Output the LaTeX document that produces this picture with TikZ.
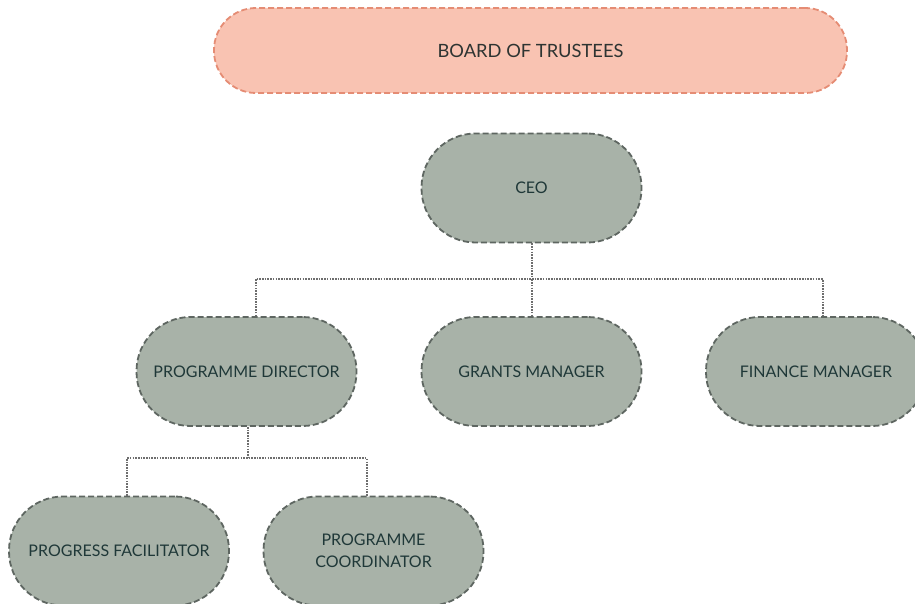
\documentclass[tikz,border=0pt]{standalone}
\usepackage{fontspec}
\setmainfont{Lato}
\usepackage{xcolor}
\definecolor{boardfill}{HTML}{F9C3B2}
\definecolor{boardline}{HTML}{E58C74}
\definecolor{boardtext}{HTML}{2E3432}
\definecolor{rolefill}{HTML}{A8B2A8}
\definecolor{roleline}{HTML}{5E6661}
\definecolor{roletext}{HTML}{1F3838}
\definecolor{linkgray}{HTML}{6E6E6E}

\begin{document}
\begin{tikzpicture}[x=1pt,y=-1pt,
    board/.style={draw=boardline,fill=boardfill,dash pattern=on 6pt off 3pt,line width=1.8pt,
        rounded corners=42pt,minimum width=633pt,minimum height=85pt,text=boardtext,
        font=\fontsize{18.3}{22}\selectfont},
    role/.style={draw=roleline,fill=rolefill,dash pattern=on 6pt off 3pt,line width=1.8pt,
        rounded corners=54pt,minimum width=220pt,minimum height=109pt,align=center,
        text=roletext,font=\fontsize{16}{22}\selectfont},
    link/.style={draw=linkgray,dash pattern=on 1.6pt off 1.1pt,line width=2pt}]
    \useasboundingbox (0,0) rectangle (915,604);

    \node[board] (BoT) at (530.5,50.5) {BOARD OF TRUSTEES};
    \node[role] (CEO) at (531.5,188) {CEO};
    \node[role] (PD) at (246.5,371.5) {PROGRAMME DIRECTOR};
    \node[role] (GM) at (531.5,371.5) {GRANTS MANAGER};
    \node[role] (FM) at (816,371.5) {FINANCE MANAGER};
    \node[role] (PF) at (119,551) {PROGRESS FACILITATOR};
    \node[role] (PC) at (373.5,551) {PROGRAMME\\COORDINATOR};

    % Connectors
    \draw[link] (CEO.south) -- ++(0,36) coordinate (bus1);
    \draw[link] ([xshift=9pt]PD.north) |- (bus1) -| ([xshift=7pt]FM.north);
    \draw[link] (bus1) -- (GM.north);
    \draw[link] ([xshift=1.5pt]PD.south) -- ++(0,31) coordinate (bus2);
    \draw[link] ([xshift=8pt]PF.north) |- (bus2) -| ([xshift=-7pt]PC.north);
\end{tikzpicture}
\end{document}
